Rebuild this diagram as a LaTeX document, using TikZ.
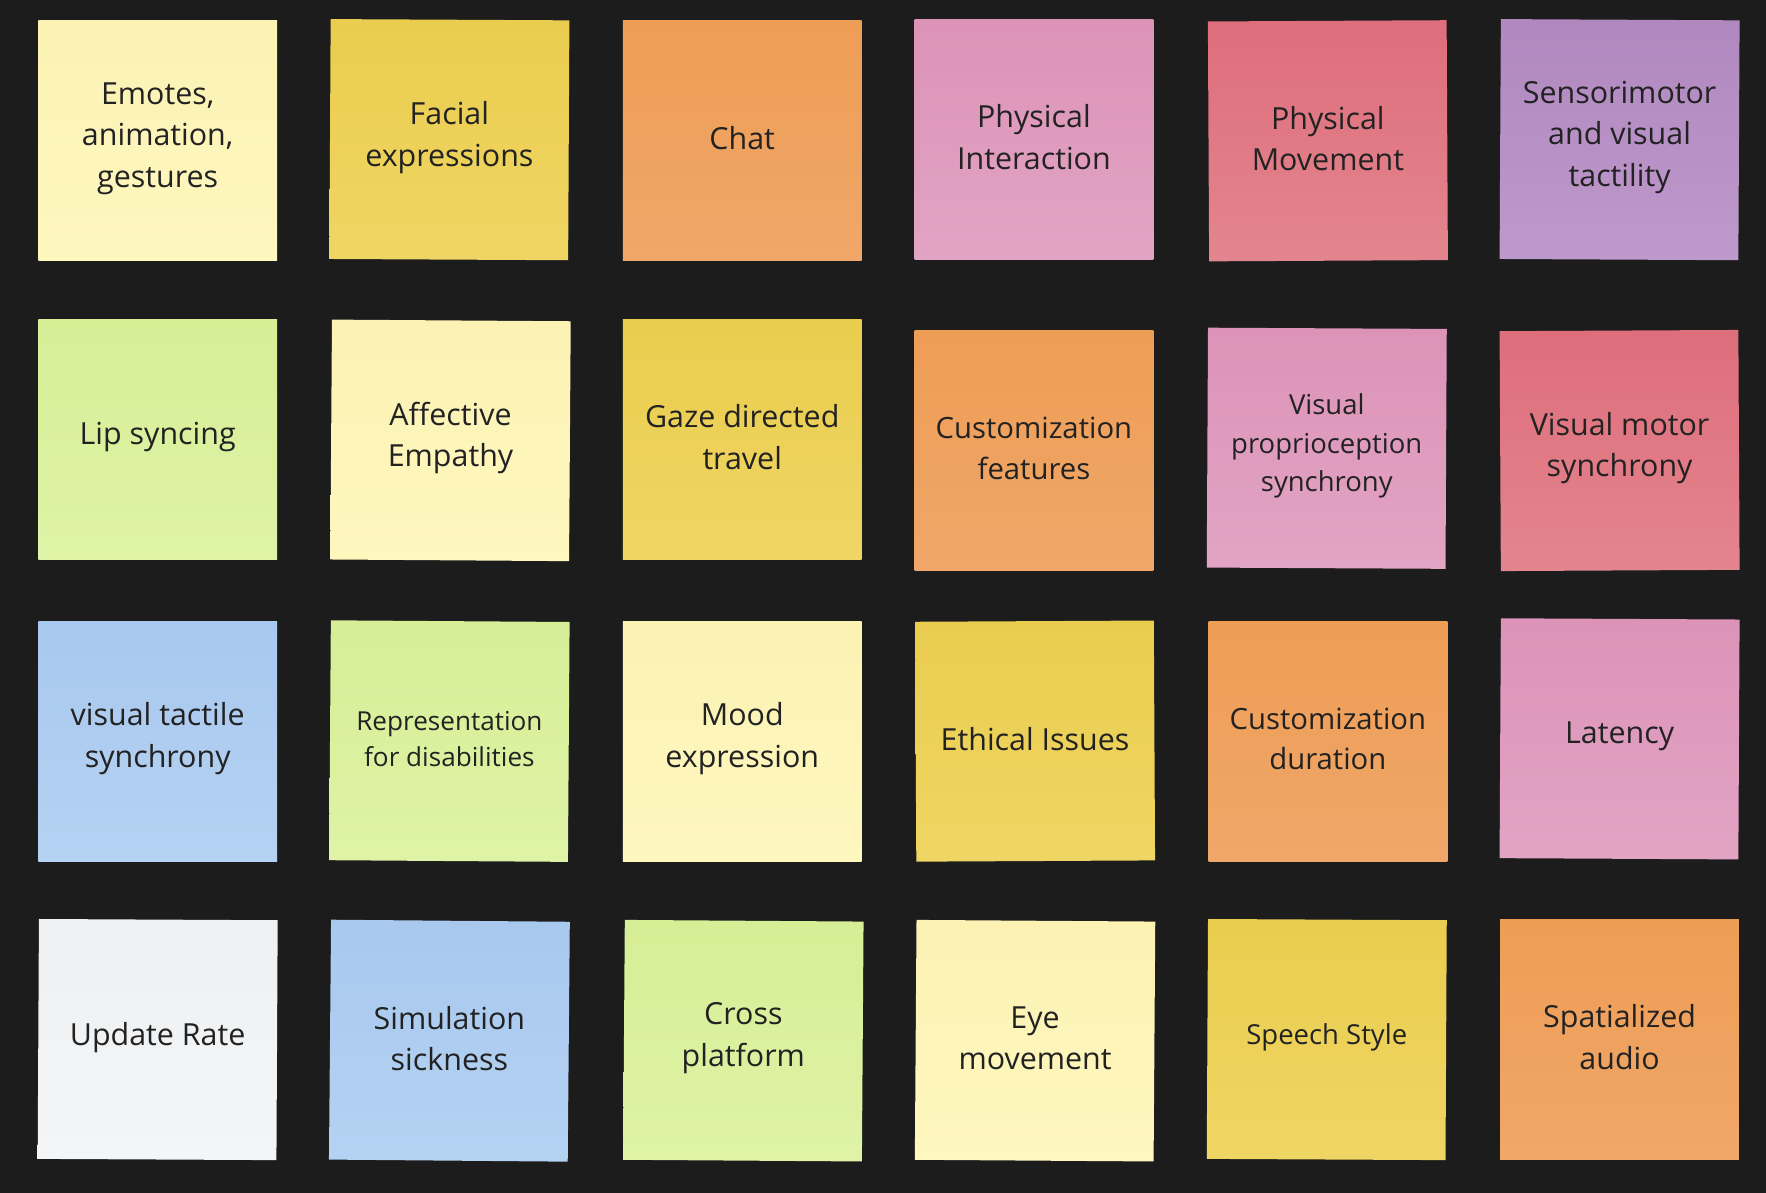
\documentclass[tikz,border=0pt]{standalone}
\usepackage{fontspec}
\setmainfont{Open Sans}
\definecolor{bg}{HTML}{1C1C1C}
\definecolor{ink}{HTML}{222222}
\definecolor{lyT}{HTML}{FBF2B3}\definecolor{lyB}{HTML}{FEF7BE}
\definecolor{yeT}{HTML}{EACD4E}\definecolor{yeB}{HTML}{EFD563}
\definecolor{orT}{HTML}{EE9D55}\definecolor{orB}{HTML}{F0A769}
\definecolor{piT}{HTML}{DC93B7}\definecolor{piB}{HTML}{E2A4C4}
\definecolor{reT}{HTML}{DE6E7C}\definecolor{reB}{HTML}{E3858E}
\definecolor{puT}{HTML}{B088BF}\definecolor{puB}{HTML}{BE99CB}
\definecolor{grT}{HTML}{D6EE96}\definecolor{grB}{HTML}{DEF3A6}
\definecolor{blT}{HTML}{A8C8EE}\definecolor{blB}{HTML}{B4D2F2}
\definecolor{whT}{HTML}{EFF0F2}\definecolor{whB}{HTML}{F4F5F7}
\tikzset{
  note/.style={rectangle, minimum width=106pt, minimum height=106.5pt, inner sep=0pt, draw=none},
  ly/.style={note, top color=lyT, bottom color=lyB},
  ye/.style={note, top color=yeT, bottom color=yeB},
  or/.style={note, top color=orT, bottom color=orB},
  pi/.style={note, top color=piT, bottom color=piB},
  re/.style={note, top color=reT, bottom color=reB},
  pu/.style={note, top color=puT, bottom color=puB},
  gr/.style={note, top color=grT, bottom color=grB},
  bl/.style={note, top color=blT, bottom color=blB},
  wh/.style={note, top color=whT, bottom color=whB},
  lbl/.style={text=ink, align=center, inner sep=0pt, font=\fontsize{13.5}{18.5}\selectfont},
  lblm/.style={lbl, font=\fontsize{13}{18}\selectfont},
  lbls/.style={lbl, font=\fontsize{12.2}{17}\selectfont},
  lblxs/.style={lbl, font=\fontsize{11.6}{16}\selectfont}
}
\newcommand{\notelbl}[3]{\node[#1] (t#2) at ([yshift=1pt]#2.center) {#3};}
\begin{document}
\begin{tikzpicture}[x=0.5pt, y=-0.5pt]
\fill[bg] (0,0) rectangle (1568,1059);
\useasboundingbox (0,0) rectangle (1568,1059);
% Row 1
\node[ly] (n11) at (140,125) {};
\node[ye, rotate=-0.3] (n12) at (399,124) {};
\node[or] (n13) at (659,125) {};
\node[pi] (n14) at (918,124) {};
\node[re, rotate=0.3] (n15) at (1179,125) {};
\node[pu, rotate=-0.3] (n16) at (1438,124) {};
\notelbl{lbl}{n11}{Emotes,\\animation,\\gestures}
\notelbl{lbl}{n12}{Facial\\expressions}
\notelbl{lbl}{n13}{Chat}
\notelbl{lbl}{n14}{Physical\\Interaction}
\notelbl{lbl}{n15}{Physical\\Movement}
\notelbl{lbl}{n16}{Sensorimotor\\and visual\\tactility}
% Row 2
\node[gr] (n21) at (140,390) {};
\node[ly, rotate=-0.4] (n22) at (400,391) {};
\node[ye] (n23) at (659,390) {};
\node[or] (n24) at (918,400) {};
\node[pi, rotate=-0.3] (n25) at (1178,398) {};
\node[re, rotate=0.3] (n26) at (1438,400) {};
\notelbl{lbl}{n21}{Lip syncing}
\notelbl{lbl}{n22}{Affective\\Empathy}
\notelbl{lbl}{n23}{Gaze directed\\travel}
\notelbl{lblm}{n24}{Customization\\features}
\notelbl{lbls}{n25}{Visual\\proprioception\\synchrony}
\notelbl{lbl}{n26}{Visual motor\\synchrony}
% Row 3
\node[bl] (n31) at (140,658) {};
\node[gr, rotate=-0.4] (n32) at (399,658) {};
\node[ly] (n33) at (659,658) {};
\node[ye, rotate=0.3] (n34) at (919,658) {};
\node[or] (n35) at (1179,658) {};
\node[pi, rotate=-0.3] (n36) at (1438,656) {};
\notelbl{lbl}{n31}{visual tactile\\synchrony}
\notelbl{lblxs}{n32}{Representation\\for disabilities}
\notelbl{lbl}{n33}{Mood\\expression}
\notelbl{lbl}{n34}{Ethical Issues}
\notelbl{lblm}{n35}{Customization\\duration}
\notelbl{lbl}{n36}{Latency}
% Row 4
\node[wh, rotate=-0.3] (n41) at (140,923) {};
\node[bl, rotate=-0.5] (n42) at (399,924) {};
\node[gr, rotate=-0.4] (n43) at (660,924) {};
\node[ly, rotate=-0.4] (n44) at (919,924) {};
\node[ye, rotate=-0.3] (n45) at (1178,923) {};
\node[or] (n46) at (1438,923) {};
\notelbl{lbl}{n41}{Update Rate}
\notelbl{lbl}{n42}{Simulation\\sickness}
\notelbl{lbl}{n43}{Cross\\platform}
\notelbl{lbl}{n44}{Eye\\movement}
\notelbl{lbls}{n45}{Speech Style}
\notelbl{lbl}{n46}{Spatialized\\audio}
\end{tikzpicture}
\end{document}
